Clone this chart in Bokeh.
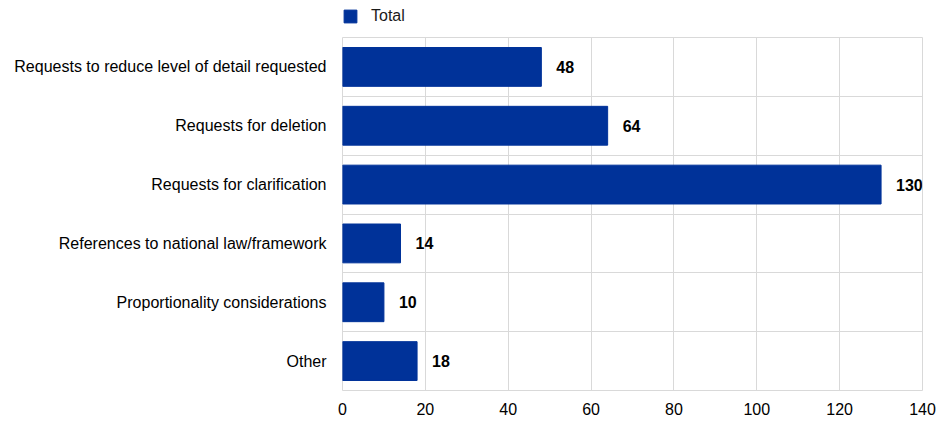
from bokeh.plotting import figure
from bokeh.models import FixedTicker, Legend, LegendItem, ColumnDataSource, Range1d
from bokeh.layouts import column
from bokeh.embed import file_html
from bokeh.resources import INLINE
from bokeh.core.properties import value

categories = [
    "Requests to reduce level of detail requested",
    "Requests for deletion",
    "Requests for clarification",
    "References to national law/framework",
    "Proportionality considerations",
    "Other",
]
totals = [48, 64, 130, 14, 10, 18]
x_ticks = [0, 20, 40, 60, 80, 100, 120, 140]
series_name = "Total"

n = len(categories)
ypos = [n - i - 0.5 for i in range(n)]
src = ColumnDataSource(dict(y=ypos, v=totals, lab=[str(t) for t in totals], cat=categories))

FONT = "Liberation Sans"
GRID = "#d9d9d9"
BLUE = "#003299"

# legend strip: same series, ranges set so the bars fall outside this strip's view
lf = figure(width=946, height=32, output_backend="svg", toolbar_location=None,
            x_range=Range1d(0, 140), y_range=Range1d(n + 10, n + 11),
            min_border_left=342, min_border_right=24, min_border_top=0, min_border_bottom=0)
lf.axis.visible = False
lf.grid.visible = False
lf.outline_line_color = None
lf.border_fill_color = "white"
lf.background_fill_color = "white"
lr = lf.hbar(y="y", right="v", left=0, height=0.66, color=BLUE, line_color=BLUE, source=src)
legend = Legend(items=[LegendItem(label=series_name, renderers=[lr], index=0)], location="left",
                glyph_width=16, glyph_height=16,
                label_text_font=FONT, label_text_font_size="16px", label_standoff=13,
                label_text_color="#1a1a1a",
                border_line_color=None, background_fill_alpha=0, padding=3, margin=0)
lf.add_layout(legend, "center")

p = figure(width=946, height=389, output_backend="svg", toolbar_location=None,
           x_range=Range1d(0, 140), y_range=Range1d(0, n),
           min_border_left=342, min_border_right=24, min_border_top=5, min_border_bottom=31)
p.outline_line_color = GRID
p.background_fill_color = "white"
p.border_fill_color = "white"

p.hbar(y="y", right="v", left=0, height=0.66, color=BLUE, line_color=BLUE, source=src)
p.text(x="v", y="y", text="lab", source=src, x_offset=15, text_align="left",
       text_baseline="middle", text_font=value(FONT), text_font_style="bold",
       text_font_size="16px", text_color="#000000")

p.xaxis.ticker = FixedTicker(ticks=x_ticks)
p.yaxis.ticker = FixedTicker(ticks=ypos)
p.yaxis.major_label_overrides = {y: c for y, c in zip(ypos, categories)}
p.ygrid.ticker = FixedTicker(ticks=list(range(n + 1)))
p.xgrid.ticker = FixedTicker(ticks=x_ticks)
for g in (p.xgrid, p.ygrid):
    g.grid_line_color = GRID
    g.grid_line_width = 1
for ax in (p.xaxis, p.yaxis):
    ax.axis_line_color = None
    ax.major_tick_line_color = None
    ax.minor_tick_line_color = None
    ax.major_label_text_font = FONT
    ax.major_label_text_font_size = "16px"
    ax.major_label_text_color = "#000000"
p.yaxis.major_label_standoff = 10
p.xaxis.major_label_standoff = 6

layout = column(lf, p, spacing=0)
open("out.html", "w").write(file_html(layout, INLINE))
